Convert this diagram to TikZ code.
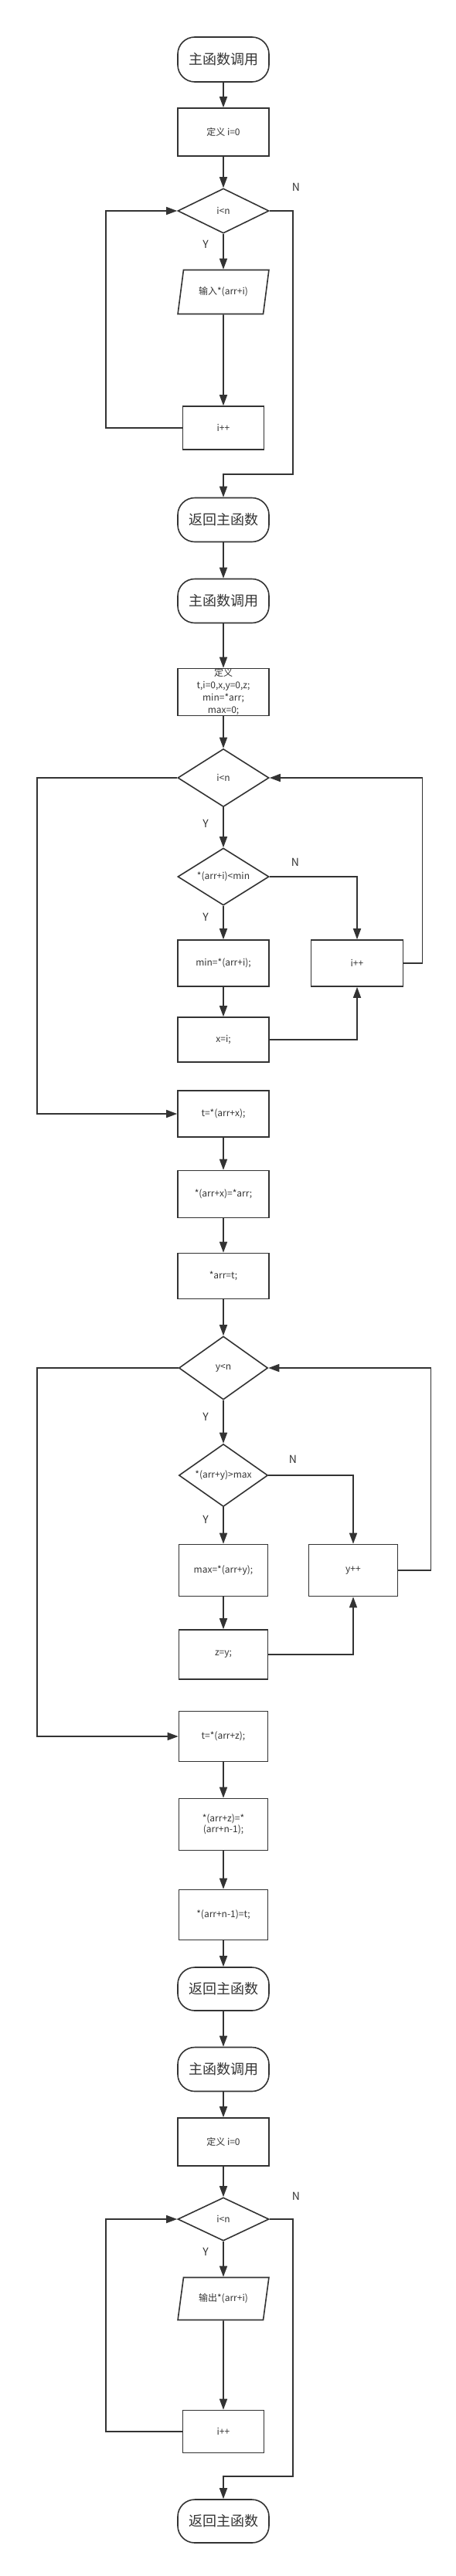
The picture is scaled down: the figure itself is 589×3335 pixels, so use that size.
\documentclass[tikz,border=0pt]{standalone}
\usepackage{fontspec}
\setmainfont{Noto Sans CJK SC}
\usetikzlibrary{arrows.meta,shapes.geometric}
\definecolor{cLine}{HTML}{333333}
\tikzset{
  box/.style  = {rectangle, draw=cLine, line width=1.6pt, align=center,
                 text=cLine, font=\fontsize{12}{14}\selectfont, inner sep=1pt,
                 minimum width=118pt, minimum height=60pt},
  term/.style = {box, rounded corners=22pt, font=\fontsize{18}{21}\selectfont,
                 minimum height=57pt},
  dec/.style  = {diamond, draw=cLine, line width=1.6pt, text=cLine, aspect=1.6,
                 font=\fontsize{12}{14}\selectfont, inner sep=1pt,
                 minimum width=118pt},
  io/.style   = {trapezium, trapezium left angle=72, trapezium right angle=108,
                 trapezium stretches=true, draw=cLine, line width=1.6pt,
                 text=cLine, font=\fontsize{12}{14}\selectfont, inner sep=1pt,
                 minimum width=118pt, minimum height=57pt},
  fl/.style   = {-{Triangle[length=14pt,width=10pt]}, draw=cLine, line width=1.6pt},
  lab/.style  = {text=cLine, font=\fontsize{14}{16}\selectfont, inner sep=0pt},
}
\begin{document}
\begin{tikzpicture}[x=1pt,y=-1pt]
  \useasboundingbox (0,0) rectangle (589,3335);

  % input
  \node[term, minimum height=58pt] (call1) at (289,77)  {主函数调用};
  \node[box, minimum height=62pt]  (def1)  at (289,171) {定义 i=0};
  \node[dec, minimum height=58pt]  (loop1) at (289,273) {i<n};
  \node[io]                        (in1)   at (289,378) {输入*(arr+i)};
  \node[box, minimum width=105pt, minimum height=56pt] (inc1) at (289,554) {i++};
  \node[term]                      (ret1)  at (289,673) {返回主函数};

  \node[lab] (y1) at (266,316) {Y};
  \node[lab] (n1) at (383,242) {N};

  \draw[fl] (call1) -- (def1);
  \draw[fl] (def1) -- (loop1);
  \draw[fl] (loop1) -- (in1);
  \draw[fl] (in1) -- (inc1);
  \draw[fl] (inc1.west) -- ++(-99,0) |- (loop1.west);
  \draw[fl] (loop1.east) -- ++(30,0) |- ([yshift=30pt]ret1.north) -- (ret1.north);

  % swap min / max
  \node[term]                     (call2)  at (289,778)  {主函数调用};
  \node[box, minimum height=61pt, inner sep=0pt, font=\fontsize{12}{16}\selectfont]
                                  (def2)   at (289,896)  {定义\\t,i=0,x,y=0,z;\\min=*arr;\\max=0;};
  \node[dec, minimum height=75pt] (loopi)  at (289,1007) {i<n};
  \node[dec, minimum height=74pt] (cmpmin) at (289,1135) {*(arr+i)<min};
  \node[box]                      (setmin) at (289,1247) {min=*(arr+i);};
  \node[box, minimum width=119pt] (inci)   at (462,1247) {i++};
  \node[box, minimum height=58pt] (setx)   at (289,1346) {x=i;};
  \node[box]                      (swap1a) at (289,1442) {t=*(arr+x);};
  \node[box, minimum height=61pt] (swap1b) at (289,1546) {*(arr+x)=*arr;};
  \node[box, minimum height=59pt] (swap1c) at (289,1652) {*arr=t;};

  \node[lab] (y2) at (266,1066) {Y};
  \node[lab] (y3) at (266,1187) {Y};
  \node[lab] (n2) at (382,1116) {N};

  \draw[fl] (ret1) -- (call2);
  \draw[fl] (call2) -- (def2);
  \draw[fl] (def2) -- (loopi);
  \draw[fl] (loopi) -- (cmpmin);
  \draw[fl] (cmpmin) -- (setmin);
  \draw[fl] (cmpmin.east) -| (inci.north);
  \draw[fl] (setmin) -- (setx);
  \draw[fl] (setx.east) -| (inci.south);
  \draw[fl] (inci.east) -- ++(24,0) |- (loopi.east);
  \draw[fl] (loopi.west) -- ++(-181,0) |- (swap1a.west);
  \draw[fl] (swap1a) -- (swap1b);
  \draw[fl] (swap1b) -- (swap1c);

  \node[dec, minimum width=115pt, minimum height=82pt] (loopy)  at (289,1771) {y<n};
  \node[dec, minimum width=115pt, minimum height=81pt] (cmpmax) at (289,1910) {*(arr+y)>max};
  \node[box, minimum width=115pt, minimum height=67pt] (setmax) at (289,2033) {max=*(arr+y);};
  \node[box, minimum width=115pt, minimum height=67pt] (incy)   at (457,2033) {y++};
  \node[box, minimum width=115pt, minimum height=64pt] (setz)   at (289,2142) {z=y;};
  \node[box, minimum width=115pt, minimum height=65pt] (swap2a) at (289,2248) {t=*(arr+z);};
  \node[box, minimum width=115pt, minimum height=67pt] (swap2b) at (289,2362) {*(arr+z)=*\\(arr+n-1);};
  \node[box, minimum width=115pt, minimum height=65pt] (swap2c) at (289,2479) {*(arr+n-1)=t;};
  \node[term, minimum height=56pt]                     (ret2)   at (289,2575) {返回主函数};

  \node[lab] (y4) at (266,1834) {Y};
  \node[lab] (y5) at (266,1967) {Y};
  \node[lab] (n3) at (379,1889) {N};

  \draw[fl] (swap1c) -- (loopy);
  \draw[fl] (loopy) -- (cmpmax);
  \draw[fl] (cmpmax) -- (setmax);
  \draw[fl] (cmpmax.east) -| (incy.north);
  \draw[fl] (setmax) -- (setz);
  \draw[fl] (setz.east) -| (incy.south);
  \draw[fl] (incy.east) -- ++(42,0) |- (loopy.east);
  \draw[fl] (loopy.west) -- ++(-183,0) |- (swap2a.west);
  \draw[fl] (swap2a) -- (swap2b);
  \draw[fl] (swap2b) -- (swap2c);
  \draw[fl] (swap2c) -- (ret2);

  % output
  \node[term]                      (call3) at (289,2679) {主函数调用};
  \node[box, minimum height=62pt]  (def3)  at (289,2773) {定义 i=0};
  \node[dec, minimum height=56pt]  (loop3) at (289,2873) {i<n};
  \node[io, minimum height=55pt]   (out3)  at (289,2976) {输出*(arr+i)};
  \node[box, minimum width=105pt, minimum height=55pt] (inc3) at (289,3148) {i++};
  \node[term, minimum height=56pt] (ret3)  at (289,3264) {返回主函数};

  \node[lab] (y6) at (266,2915) {Y};
  \node[lab] (n4) at (383,2843) {N};

  \draw[fl] (ret2) -- (call3);
  \draw[fl] (call3) -- (def3);
  \draw[fl] (def3) -- (loop3);
  \draw[fl] (loop3) -- (out3);
  \draw[fl] (out3) -- (inc3);
  \draw[fl] (inc3.west) -- ++(-99,0) |- (loop3.west);
  \draw[fl] (loop3.east) -- ++(30,0) |- ([yshift=29pt]ret3.north) -- (ret3.north);
\end{tikzpicture}
\end{document}
